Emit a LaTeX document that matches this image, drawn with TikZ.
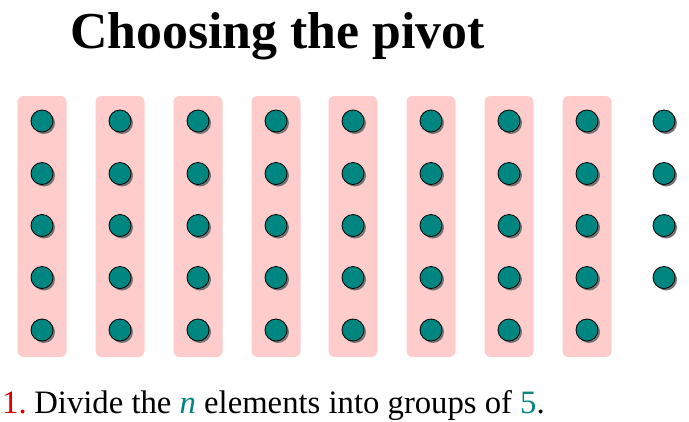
\documentclass[tikz,border=0pt]{standalone}
\usepackage{fontspec}
\setmainfont{Liberation Serif}
\definecolor{dotteal}{RGB}{0,134,128}
\definecolor{boxpink}{RGB}{255,204,204}
\definecolor{numred}{RGB}{220,0,0}
\begin{document}
\begin{tikzpicture}[x=1pt,y=-1pt,
  groupbox/.style={fill=boxpink,draw=none,rounded corners=6pt,minimum width=49pt,minimum height=261pt,inner sep=0pt},
  elem/.style={circle,fill=dotteal,draw=black,line width=0.8pt,minimum size=22pt,inner sep=0pt,
    preaction={fill=black!55,transform canvas={shift={(2pt,-2pt)}}}}]
\useasboundingbox (0,0) rectangle (689,421);
\foreach \c [count=\i] in {42,120,198,276,353,431,509,587}{
  \node[groupbox] (g\i) at (\c,226.5) {};
}
\foreach \c [count=\i] in {42,120,198,276,353,431,509,587}{
  \foreach \r [count=\j] in {121,173.5,225.5,277.5,330}{
    \node[elem] (d\i-\j) at (\c,\r) {};
  }
}
\foreach \r [count=\j] in {121,173.5,225.5,277.5}{
  \node[elem] (d9-\j) at (664,\r) {};
}
\node[anchor=base west,inner sep=0pt,font=\fontsize{51.8}{56}\selectfont\bfseries] (title) at (70,48) {Choosing the pivot};
\node[anchor=base west,inner sep=0pt,font=\fontsize{32.7}{36}\selectfont] (caption) at (2,413)
  {\textcolor{numred}{1.}\hspace{-0.1em} Divide the \textcolor{dotteal}{\itshape n} elements into groups of \textcolor{dotteal}{5}.};
\end{tikzpicture}
\end{document}
